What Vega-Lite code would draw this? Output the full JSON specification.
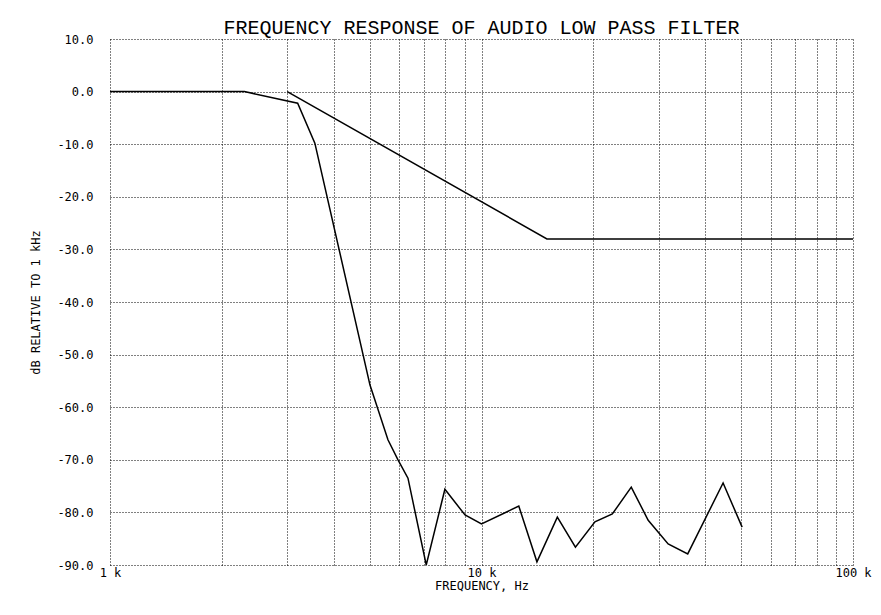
{
  "$schema": "https://vega.github.io/schema/vega-lite/v6.json",
  "autosize": {"type": "none"},
  "padding": {"left": 110, "top": 39, "right": 28, "bottom": 50},
  "width": 743,
  "height": 526,
  "background": "white",
  "config": {"view": {"stroke": null}},
  "title": {
    "text": "FREQUENCY RESPONSE OF AUDIO LOW PASS FILTER",
    "font": "Liberation Mono",
    "fontSize": 20,
    "fontWeight": "normal",
    "color": "black",
    "anchor": "middle",
    "offset": -5
  },
  "data": {
    "values": [
      {"series": "response", "freq": 1000, "db": 0},
      {"series": "response", "freq": 2300, "db": 0},
      {"series": "response", "freq": 3200, "db": -2.2},
      {"series": "response", "freq": 3560, "db": -9.8},
      {"series": "response", "freq": 5010, "db": -55.8},
      {"series": "response", "freq": 5600, "db": -66.2},
      {"series": "response", "freq": 5960, "db": -70},
      {"series": "response", "freq": 6340, "db": -73.5},
      {"series": "response", "freq": 7100, "db": -90},
      {"series": "response", "freq": 7970, "db": -75.6},
      {"series": "response", "freq": 9030, "db": -80.5},
      {"series": "response", "freq": 10000, "db": -82.2},
      {"series": "response", "freq": 12600, "db": -78.8},
      {"series": "response", "freq": 14100, "db": -89.4},
      {"series": "response", "freq": 16000, "db": -80.9},
      {"series": "response", "freq": 17900, "db": -86.6},
      {"series": "response", "freq": 20200, "db": -81.8},
      {"series": "response", "freq": 22500, "db": -80.3},
      {"series": "response", "freq": 25300, "db": -75.2},
      {"series": "response", "freq": 28100, "db": -81.5},
      {"series": "response", "freq": 31800, "db": -86},
      {"series": "response", "freq": 35900, "db": -87.9},
      {"series": "response", "freq": 44700, "db": -74.4},
      {"series": "response", "freq": 50300, "db": -82.8},
      {"series": "asymptote", "freq": 3000, "db": 0},
      {"series": "asymptote", "freq": 15000, "db": -28},
      {"series": "asymptote", "freq": 100000, "db": -28}
    ]
  },
  "mark": {"type": "line", "color": "black", "strokeWidth": 1.5, "clip": true},
  "encoding": {
    "detail": {"field": "series"},
    "x": {
      "field": "freq",
      "type": "quantitative",
      "scale": {"type": "log", "domain": [1000, 100000], "nice": false},
      "axis": {
        "values": [1000, 2000, 3000, 4000, 5000, 6000, 7000, 8000, 9000, 10000, 20000, 30000, 40000, 50000, 60000, 70000, 80000, 90000, 100000],
        "labelExpr": "datum.value == 1000 ? '1 k' : datum.value == 10000 ? '10 k' : datum.value == 100000 ? '100 k' : ''",
        "labelFont": "DejaVu Sans Mono",
        "labelFontSize": 12,
        "labelColor": "black",
        "labelPadding": 2,
        "labelOverlap": false,
        "labelFlush": false,
        "ticks": false,
        "domain": false,
        "grid": true,
        "gridColor": "black",
        "gridDash": [1, 2],
        "gridOpacity": 1,
        "gridWidth": 1,
        "title": "FREQUENCY, Hz",
        "titleFont": "DejaVu Sans Mono",
        "titleFontSize": 12,
        "titleFontWeight": "normal",
        "titleColor": "black",
        "titlePadding": 2
      }
    },
    "y": {
      "field": "db",
      "type": "quantitative",
      "scale": {"domain": [-90, 10], "nice": false},
      "axis": {
        "values": [-90, -80, -70, -60, -50, -40, -30, -20, -10, 0, 10],
        "labelExpr": "(datum.value < 0 ? '-' : '') + format(abs(datum.value), '.1f')",
        "labelFont": "DejaVu Sans Mono",
        "labelFontSize": 12,
        "labelColor": "black",
        "labelPadding": 17,
        "ticks": false,
        "domain": false,
        "grid": true,
        "gridColor": "black",
        "gridDash": [1, 2],
        "gridOpacity": 1,
        "gridWidth": 1,
        "title": "dB RELATIVE TO 1 kHz",
        "titleFont": "DejaVu Sans Mono",
        "titleFontSize": 12,
        "titleFontWeight": "normal",
        "titleColor": "black",
        "titlePadding": 14
      }
    }
  }
}
